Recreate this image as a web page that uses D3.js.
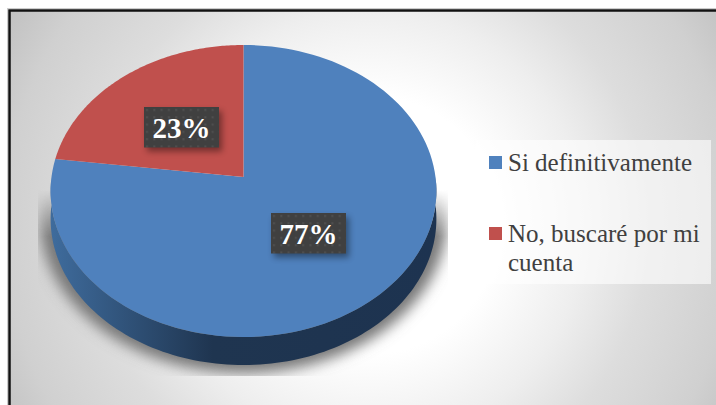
<!DOCTYPE html>
<html>
<head>
<meta charset="utf-8">
<script src="https://cdn.jsdelivr.net/npm/d3@7"></script>
<style>
  html, body { margin: 0; padding: 0; background: #fff; overflow: hidden; }
  svg { display: block; }
  text { font-family: "Liberation Serif", serif; }
</style>
</head>
<body>
<svg id="chart" width="716" height="405"></svg>
<script>
const categories = ["Si definitivamente", "No, buscaré por mi cuenta"];
const values = [77, 23];
const colors = ["#4f81bd", "#c0504d"];
const legendLines = [["Si definitivamente"], ["No, buscaré por mi", "cuenta"]];
const valueLabels = ["77%", "23%"];

const svg = d3.select("#chart");
const defs = svg.append("defs");

// background, white in the middle and grey towards the corners
const bg = defs.append("radialGradient").attr("id", "bg")
  .attr("gradientUnits", "userSpaceOnUse")
  .attr("cx", 370).attr("cy", 225).attr("r", 430);
[[0.3, "#ffffff"], [0.5, "#eeeeee"], [0.65, "#dddddd"], [0.85, "#d0d0d0"], [1, "#bebebe"]].forEach(s => {
  bg.append("stop").attr("offset", s[0]).attr("stop-color", s[1]);
});

const wall = defs.append("linearGradient").attr("id", "wall")
  .attr("gradientUnits", "userSpaceOnUse")
  .attr("x1", 50).attr("x2", 437).attr("y1", 0).attr("y2", 0);
wall.append("stop").attr("offset", 0).attr("stop-color", "#3f6c9d");
wall.append("stop").attr("offset", 0.42).attr("stop-color", "#1f3550");
wall.append("stop").attr("offset", 1).attr("stop-color", "#1d3350");

defs.append("filter").attr("id", "blur")
  .attr("x", "-20%").attr("y", "-20%").attr("width", "140%").attr("height", "140%")
  .append("feGaussianBlur").attr("stdDeviation", 7);

const boxShadow = defs.append("filter").attr("id", "boxShadow")
  .attr("x", "-20%").attr("y", "-30%").attr("width", "140%").attr("height", "170%");
boxShadow.append("feGaussianBlur").attr("stdDeviation", 3);

const dots = defs.append("pattern").attr("id", "dots")
  .attr("patternUnits", "userSpaceOnUse").attr("width", 7.3).attr("height", 7.3);
dots.append("rect").attr("width", 7.3).attr("height", 7.3).attr("fill", "#404040");
dots.append("rect").attr("x", 2).attr("y", 2).attr("width", 2).attr("height", 2).attr("fill", "#505050");

const fade = defs.append("linearGradient").attr("id", "fade").attr("x1", 0).attr("x2", 0).attr("y1", 0).attr("y2", 1);
fade.append("stop").attr("offset", 0).attr("stop-color", "#000");
fade.append("stop").attr("offset", 0.25).attr("stop-color", "#fff");
defs.append("mask").attr("id", "shadowMask").attr("maskUnits", "userSpaceOnUse")
  .attr("x", 0).attr("y", 0).attr("width", 716).attr("height", 405)
  .append("rect").attr("x", 38).attr("y", 190).attr("width", 410).attr("height", 186).attr("fill", "url(#fade)");

// background and frame
svg.append("rect").attr("x", 7.5).attr("y", 8.5).attr("width", 720).attr("height", 420)
  .attr("fill", "none").attr("stroke", "#cccccc").attr("stroke-width", 1);
svg.append("rect").attr("x", 9.5).attr("y", 10.5).attr("width", 720).attr("height", 420)
  .attr("fill", "url(#bg)").attr("stroke", "#111").attr("stroke-width", 2.5);

// tilted pie: circle angle -> screen point through a perspective
const cx = 243.5, radius = 192;
const apexY = 177, topY = 45, bottomY = 337;
const persp = -(topY + bottomY - 2 * apexY) / (bottomY - topY);
const gain = bottomY * (1 + persp) - apexY;
function project(angle, depth = 0, grow = 1) {
  const u = -Math.cos(angle), x = Math.sin(angle), w = 1 + persp * u;
  const y = (gain * u + apexY) / w;
  return [cx + grow * radius * x / w, 191 + grow * (y - 191) + depth];
}

const pie = d3.pie().sort(null)(values);
const line = d3.line();
const arcPoints = (a0, a1, depth = 0, grow = 1) =>
  d3.range(0, 121).map(i => project(a0 + (a1 - a0) * i / 120, depth, grow));

// shadow on the ground
const depth = 28;
svg.append("g").attr("mask", "url(#shadowMask)")
  .append("path")
  .attr("d", line(arcPoints(0, 2 * Math.PI, depth, 1.055)) + "Z")
  .attr("fill", "#777777").attr("filter", "url(#blur)");

// side wall
svg.append("path")
  .attr("d", line(arcPoints(Math.PI / 2, 3 * Math.PI / 2, 0)
    .concat(arcPoints(3 * Math.PI / 2, Math.PI / 2, depth))) + "Z")
  .attr("fill", "url(#wall)");

// slices
svg.append("g").selectAll("path").data(pie).join("path")
  .attr("d", d => line([[cx, apexY]].concat(arcPoints(d.startAngle, d.endAngle))) + "Z")
  .attr("fill", (d, i) => colors[i]);

// value labels
const labelBoxes = [[271, 213], [144, 107]];
const boxW = 75, boxH = 40.5;
const lab = svg.append("g").selectAll("g").data(valueLabels).join("g")
  .attr("transform", (d, i) => `translate(${labelBoxes[i][0]},${labelBoxes[i][1]})`);
lab.append("rect").attr("x", 3).attr("y", 4).attr("width", boxW).attr("height", boxH)
  .attr("fill", "#000").attr("opacity", 0.4).attr("filter", "url(#boxShadow)");
lab.append("rect").attr("width", boxW).attr("height", boxH).attr("fill", "url(#dots)");
lab.append("text").attr("x", boxW / 2).attr("y", 31).attr("text-anchor", "middle")
  .attr("font-size", 29).attr("font-weight", "bold").attr("fill", "#fff").text(d => d);

// legend
svg.append("rect").attr("x", 476).attr("y", 140).attr("width", 235).attr("height", 144)
  .attr("fill", "#fff").attr("fill-opacity", 0.6);
const legendY = [171, 242];
const leg = svg.append("g").selectAll("g").data(categories).join("g");
leg.append("rect").attr("x", 489).attr("y", (d, i) => legendY[i] - 15).attr("width", 13).attr("height", 13)
  .attr("fill", (d, i) => colors[i]);
leg.append("text").attr("fill", "#404040").attr("font-size", 25)
  .selectAll("tspan").data((d, i) => legendLines[i].map(t => ({ t, y: legendY[i] }))).join("tspan")
  .attr("x", 508).attr("y", (d, j) => d.y + j * 29).text(d => d.t);
</script>
</body>
</html>
